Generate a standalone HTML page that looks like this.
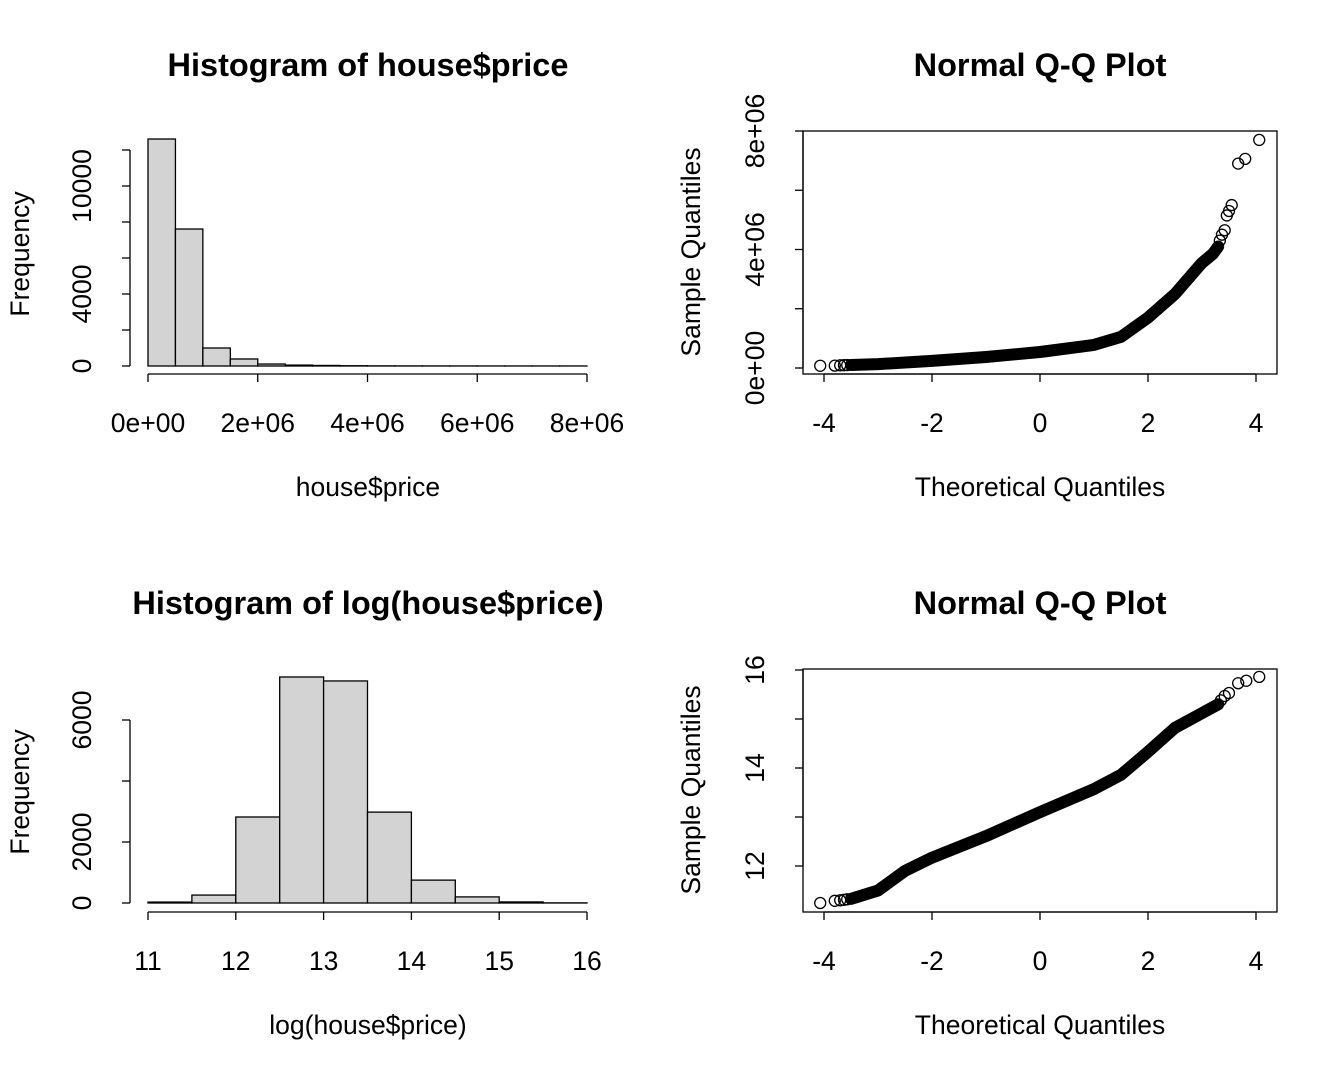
<!DOCTYPE html>
<html><head><meta charset="utf-8"><style>
html,body{margin:0;padding:0;background:#fff}
svg{display:block;font-family:"Liberation Sans",Arial,sans-serif}
</style></head><body>
<svg id="c" width="1344" height="1075" xmlns="http://www.w3.org/2000/svg"></svg>
<script>
const h1Breaks=[0,5e5,1e6,1.5e6,2e6,2.5e6,3e6,3.5e6,4e6,4.5e6,5e6,5.5e6,6e6,6.5e6,7e6,7.5e6,8e6];
const h1Counts=[12610,7610,1000,390,110,50,30,15,8,5,4,3,2,2,2,2];
const h1YTicks=[0,2000,4000,6000,8000,10000,12000];
const h1YLabels=["0","","4000","","","10000",""];
const h1XTicks=[0,2e6,4e6,6e6,8e6];
const h1XLabels=["0e+00","2e+06","4e+06","6e+06","8e+06"];
const h2Breaks=[11,11.5,12,12.5,13,13.5,14,14.5,15,15.5,16];
const h2Counts=[30,260,2820,7410,7280,2980,750,200,35,5];
const h2YTicks=[0,2000,4000,6000];
const h2YLabels=["0","2000","","6000"];
const h2XTicks=[11,12,13,14,15,16];
// QQ 1 dense cloud
const q1X=[-3.5,-3,-2,-1,0,1,1.5,2,2.5,3,3.2,3.3];
const q1Y=[0.1e6,0.13e6,0.24e6,0.37e6,0.54e6,0.78e6,1.05e6,1.7e6,2.5e6,3.55e6,3.85e6,4.1e6];
// QQ 1 isolated tail points
const q1TX=[-4.07,-3.8,-3.7,-3.63,-3.57,3.33,3.37,3.42,3.46,3.5,3.55,3.67,3.8,4.06];
const q1TY=[0.075e6,0.08e6,0.09e6,0.095e6,0.1e6,4.3e6,4.5e6,4.65e6,5.15e6,5.3e6,5.5e6,6.9e6,7.06e6,7.7e6];
const q1YTicks=[0,2e6,4e6,6e6,8e6];
const q1YLabels=["0e+00","","4e+06","","8e+06"];
// QQ 2 dense cloud
const q2X=[-3.5,-3,-2.5,-2,-1,0,1,1.5,2,2.5,3,3.3];
const q2Y=[11.33,11.5,11.9,12.17,12.61,13.1,13.57,13.86,14.33,14.82,15.12,15.3];
const q2TX=[-4.07,-3.8,-3.7,-3.63,-3.57,3.35,3.42,3.5,3.67,3.82,4.06];
const q2TY=[11.245,11.29,11.3,11.31,11.32,15.38,15.47,15.53,15.73,15.78,15.86];
const q2YTicks=[12,13,14,15,16];
const q2YLabels=["12","","14","","16"];
const qXTicks=[-4,-2,0,2,4];

const S=document.getElementById('c');const NS='http://www.w3.org/2000/svg';
function mk(t,a,txt){const e=document.createElementNS(NS,t);for(const k in a)e.setAttribute(k,a[k]);if(txt!==undefined)e.textContent=txt;S.appendChild(e);return e;}
function lin(d0,d1,r0,r1){return v=>r0+(v-d0)/(d1-d0)*(r1-r0);}
function title(x,y,t,n){const e=mk('text',{x:x,y:y,'text-anchor':'middle','font-size':'32.5','font-weight':'bold'},t);}
function txt(x,y,t,n,rot){const a={x:x,y:y,'text-anchor':'middle','font-size':'26.5'};if(rot)a.transform='rotate(-90 '+x+' '+y+')';const e=mk('text',a,t);}
function xaxis(sx,ticks,labels,y,n){const l=mk('line',{x1:sx(ticks[0]),x2:sx(ticks[ticks.length-1]),y1:y,y2:y,stroke:'#000','stroke-width':1.3});
 ticks.forEach((t,i)=>{mk('line',{x1:sx(t),x2:sx(t),y1:y,y2:y+8,stroke:'#000','stroke-width':1.3});if(labels[i])txt(sx(t),y+58,labels[i],n+'-label');});}
function yaxis(sy,ticks,labels,x,n){const l=mk('line',{y1:sy(ticks[0]),y2:sy(ticks[ticks.length-1]),x1:x,x2:x,stroke:'#000','stroke-width':1.3});
 ticks.forEach((t,i)=>{mk('line',{y1:sy(t),y2:sy(t),x1:x,x2:x-8,stroke:'#000','stroke-width':1.3});if(labels[i])txt(x-39,sy(t),labels[i],n+'-label',true);});}
function hist(br,ct,sx,sy,n){ct.forEach((c,i)=>{const r=mk('rect',{x:sx(br[i]),y:sy(c),width:sx(br[i+1])-sx(br[i]),height:sy(0)-sy(c),fill:'#d3d3d3',stroke:'#000','stroke-width':1.3});});}
function qq(X,Y,TX,TY,sx,sy,n){const p=mk('polyline',{points:X.map((x,i)=>sx(x)+','+sy(Y[i])).join(' '),fill:'none',stroke:'#000','stroke-width':12,'stroke-linejoin':'round','stroke-linecap':'round'});
 TX.forEach((x,i)=>{const c=mk('circle',{cx:sx(x),cy:sy(TY[i]),r:5.5,fill:'none',stroke:'#000','stroke-width':1.3});});}

let sx=lin(0,8e6,148,587),sy=lin(0,1000,366,348);
title(368,76,'Histogram of house$price','hist1-title');
hist(h1Breaks,h1Counts,sx,sy,'hist1');
xaxis(sx,h1XTicks,h1XLabels,374,'hist1-x-axis');
yaxis(sy,h1YTicks,h1YLabels,130,'hist1-y-axis');
txt(368,496,'house$price','hist1-x-title');txt(29,254,'Frequency','hist1-y-title',true);
sx=lin(11,16,148,587);sy=lin(0,2000,903,842);
title(368,614,'Histogram of log(house$price)','hist2-title');
hist(h2Breaks,h2Counts,sx,sy,'hist2');
xaxis(sx,h2XTicks,h2XTicks.map(String),912,'hist2-x-axis');
yaxis(sy,h2YTicks,h2YLabels,130,'hist2-y-axis');
txt(368,1034,'log(house$price)','hist2-x-title');txt(29,792,'Frequency','hist2-y-title',true);
sx=lin(-4,4,824,1256);sy=lin(0,8e6,368,131);
title(1040,76,'Normal Q-Q Plot','qq1-title');
let b=mk('rect',{x:803,y:131,width:474,height:243,fill:'none',stroke:'#000','stroke-width':1.3});
qq(q1X,q1Y,q1TX,q1TY,sx,sy,'qq1');
xaxis(sx,qXTicks,qXTicks.map(String),374,'qq1-x-axis');
yaxis(sy,q1YTicks,q1YLabels,803,'qq1-y-axis');
txt(1040,496,'Theoretical Quantiles','qq1-x-title');txt(700,252,'Sample Quantiles','qq1-y-title',true);
sy=lin(12,16,866,670);
title(1040,614,'Normal Q-Q Plot','qq2-title');
b=mk('rect',{x:803,y:669,width:474,height:243,fill:'none',stroke:'#000','stroke-width':1.3});
qq(q2X,q2Y,q2TX,q2TY,sx,sy,'qq2');
xaxis(sx,qXTicks,qXTicks.map(String),912,'qq2-x-axis');
yaxis(sy,q2YTicks,q2YLabels,803,'qq2-y-axis');
txt(1040,1034,'Theoretical Quantiles','qq2-x-title');txt(700,790,'Sample Quantiles','qq2-y-title',true);
</script>
</body></html>
